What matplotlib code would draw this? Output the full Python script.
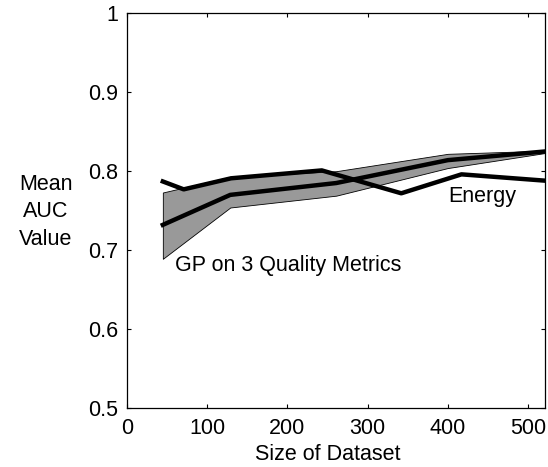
import matplotlib.pyplot as plt

plt.rcParams['font.family'] = ['Liberation Sans', 'DejaVu Sans']

# GP on 3 quality metrics: mean and band
gp_x = [45, 129, 261, 400, 521]
gp_mean = [0.732, 0.770, 0.785, 0.814, 0.825]
gp_upper = [0.773, 0.793, 0.800, 0.822, 0.826]
gp_lower = [0.689, 0.754, 0.769, 0.804, 0.823]

# Energy
en_x = [45, 71, 130, 243, 342, 417, 521]
en_y = [0.787, 0.777, 0.791, 0.801, 0.772, 0.796, 0.788]

xticks = [0, 100, 200, 300, 400, 500]
yticks = [0.5, 0.6, 0.7, 0.8, 0.9, 1.0]
ytick_labels = ['0.5', '0.6', '0.7', '0.8', '0.9', '1']

fig = plt.figure(figsize=(5.48, 4.67), dpi=100)
ax = fig.add_axes([0.2312, 0.1263, 0.7633, 0.8452])

ax.fill_between(gp_x, gp_lower, gp_upper, facecolor='#999999', edgecolor='black', linewidth=0.6)
ax.plot(gp_x, gp_mean, color='black', linewidth=3.2)
ax.plot(en_x, en_y, color='black', linewidth=3.2)

ax.text(401, 0.768, 'Energy', fontsize=15.5, va='center', ha='left')
ax.text(60, 0.680, 'GP on 3 Quality Metrics', fontsize=15.5, va='center', ha='left')

ax.set_xlim(0, 521)
ax.set_ylim(0.5, 1.0)
ax.set_xticks(xticks)
ax.set_yticks(yticks)
ax.set_yticklabels(ytick_labels)
ax.tick_params(direction='in', top=True, right=True, labelsize=15.5, length=3, width=0.8)
ax.tick_params(axis='x', pad=7)
ax.tick_params(axis='y', pad=6)
for s in ax.spines.values():
    s.set_linewidth(0.9)

ax.set_xlabel('Size of Dataset', fontsize=15.5, va='center')
ax.xaxis.set_label_coords(0.481, -0.119)
ax.set_ylabel('Mean\nAUC\nValue', fontsize=15.5, rotation=0, ha='center', va='center', linespacing=1.4)
ax.yaxis.set_label_coords(-0.193, 0.497)

fig.savefig('out.png', dpi=100)
